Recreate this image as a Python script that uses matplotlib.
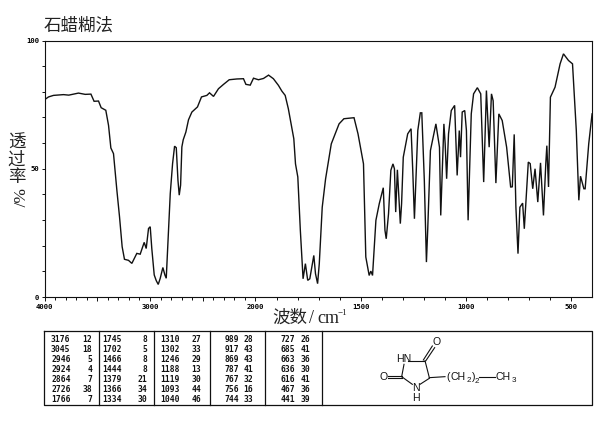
import numpy as np
import matplotlib
matplotlib.use("Agg")
import matplotlib.pyplot as plt
from matplotlib.ticker import FixedLocator, NullFormatter

wavenumber = [4000,3962,3915,3820,3770,3678,3614,3560,3530,3488,3463,3419,3393,3371,3346,3314,3289,3264,3242,3204,3172,3140,3125,3093,3055,3036,3014,2998,2983,2960,2941,2922,2903,2878,2859,2846,2824,2808,2786,2767,2751,2735,2723,2710,2698,2685,2660,2635,2603,2550,2512,2461,2436,2398,2351,2303,2249,2177,2114,2091,2050,2019,
              1986,1962,1938,1915,1891,1875,1859,1844,1830,1818,1810,1799,1787,1774,1763,1752,1742,1723,1715,1705,1697,1683,1667,1640,1603,1580,1532,1513,1487,1476,1460,1452,1444,1428,1412,1393,1385,1379,1368,1357,1347,1340,1334,1326,1312,1306,1298,1277,1261,1253,1245,1229,1217,1210,1198,1188,1182,1169,1143,1126,1120,1105,1099,1092,1083,1070,1054,1042,1032,1026,1018,1006,998,990,975,964,946,930,916,903,890,879,871,858,844,828,807,788,780,771,763,753,744,731,723,704,695,683,672,659,646,632,621,616,608,599,577,553,537,513,494,476,464,456,440,434,417,401]
transmittance = [76.9,78,78.6,78.9,78.7,79.5,79,79.1,76.3,76.4,73.8,72.8,66.9,58.1,55.9,41.6,31.3,19.6,14.7,14.3,13.1,15.7,17,16.7,21.3,18.9,26.7,27.4,18.9,8.6,6.4,4.9,7.3,11.5,8.6,7.3,26,40.3,52,58.8,58.2,45.5,39.7,43.6,58.5,61.3,64.3,69.1,72.1,74.1,78,78.6,79.6,78.2,81.2,82.9,84.7,85,85.1,82.9,82.6,85.3,
                 84.7,85.2,86.5,85.1,82.5,80.3,78.6,73.4,67,61.7,51.9,46.8,26,7.1,13,6.5,7.1,16.2,9.1,5.2,13,35,46.1,59.7,67.5,69.5,69.9,63.6,51.9,15.6,8.4,10.1,8.4,29.9,36.4,42.6,26,22.7,32.5,49.4,51.9,50,33.1,49.6,28.6,36.4,54.5,63.6,65.6,49.4,30.5,64.9,71.8,71.8,45.5,13.6,26,57.1,67.5,58.4,31.8,67.5,59.7,46.1,63.6,72.7,74.7,47.4,64.9,54.5,72.1,72.7,64.9,29.9,71.4,79.2,81.6,79.2,44.8,80.5,58.4,79.2,76.5,44.4,71.4,68.8,58.4,42.9,42.9,63.4,35.1,16.9,35,36.6,26.6,52.6,52,42.2,50,37,52.3,31.8,51.9,59,42.9,77.9,81.8,90.9,94.8,92.2,90.9,64.9,37.7,47.1,42.2,42.2,59.7,71.4]

major_ticks = [4000,3500,3000,2500,2000,1500,1000,500]
major_labels = ['4000','','3000','','2000','1500','1000','500']
y_labels = ['0','50','100']

peak_table = [
    [('3176',12),('3045',18),('2946',5),('2924',4),('2864',7),('2726',38),('1766',7)],
    [('1745',8),('1702',5),('1466',8),('1444',8),('1379',21),('1366',34),('1334',30)],
    [('1310',27),('1302',33),('1246',29),('1188',13),('1119',30),('1093',44),('1040',46)],
    [('989',28),('917',43),('869',43),('787',41),('767',32),('756',16),('744',33)],
    [('727',26),('685',41),('663',36),('636',30),('616',41),('467',36),('441',39)],
]

W, H = 595, 425
CJK = ['Noto Sans CJK SC', 'DejaVu Sans']
TICKFONT = dict(family='DejaVu Sans Mono', fontweight='bold')
INK = '#111111'
SOFT = '#222222'

fig = plt.figure(figsize=(W/100, H/100), dpi=100, facecolor='white')
L, R, T, B = 44.5, 592.3, 40.5, 297.0
ax = fig.add_axes([L/W, 1-B/H, (R-L)/W, (B-T)/H])

def fwd(v):
    return np.interp(v, [400, 2000, 4000], [0, 336.8, 547.8])
def inv(u):
    return np.interp(u, [0, 336.8, 547.8], [400, 2000, 4000])

ax.set_xscale('function', functions=(fwd, inv))
ax.plot(wavenumber, transmittance, color=INK, lw=1.0, solid_joinstyle='miter')
ax.set_xlim(4000, 400)
ax.set_ylim(0, 100)

ax.xaxis.set_major_locator(FixedLocator(major_ticks))
ax.set_xticklabels(major_labels, fontsize=5.2, **TICKFONT)
ax.xaxis.set_minor_locator(FixedLocator(list(range(500, 4000, 100))))
ax.xaxis.set_minor_formatter(NullFormatter())
ax.yaxis.set_major_locator(FixedLocator([0, 50, 100]))
ax.set_yticklabels(y_labels, fontsize=5.2, **TICKFONT)
ax.yaxis.set_minor_locator(FixedLocator(list(range(10, 100, 10))))
ax.yaxis.set_minor_formatter(NullFormatter())
ax.tick_params(axis='x', which='major', length=3.2, width=0.7, pad=1.5, color=INK)
ax.tick_params(axis='x', which='minor', length=2, width=0.7, color=INK)
ax.tick_params(axis='y', which='major', length=2.5, width=0.7, pad=1.5, color=INK)
ax.tick_params(axis='y', which='minor', length=2, width=0.7, color=INK)
for s in ax.spines.values():
    s.set_linewidth(0.8)
    s.set_color(INK)

ov = fig.add_axes([0, 0, 1, 1], facecolor='none')
ov.set_xlim(0, W)
ov.set_ylim(H, 0)
ov.axis('off')

ov.text(43.5, 26, '石蜡糊法', family=CJK, fontsize=12.6, va='center', ha='left', color=SOFT)
for ch, y in [('透', 143), ('过', 160), ('率', 177)]:
    ov.text(16.5, y, ch, family=CJK, fontsize=12.6, va='center', ha='center', color=SOFT)
ov.text(16.5, 198, '%/', family='Liberation Serif', fontsize=12.5, va='center', ha='center',
        rotation=270, color=SOFT)
ov.text(272, 318, '波数', family=CJK, fontsize=12.6, va='center', ha='left', color=SOFT)
ov.text(309, 318.5, '/', family='Liberation Serif', fontsize=13, va='center', ha='left', color=SOFT)
ov.text(317, 318.5, 'cm', family='Liberation Serif', fontsize=13, va='center', ha='left', color=SOFT)
ov.text(338, 313, '−1', family='Liberation Serif', fontsize=6.5, va='center', ha='left', color=SOFT)

ov.plot([44, 592, 592, 44, 44], [331, 331, 405, 405, 331], color=INK, lw=0.9)
for x in [99, 154, 210, 265, 322]:
    ov.plot([x, x], [331, 405], color=INK, lw=0.9)
col_left = [51, 102, 160, 220, 276]
col_right = [92, 147, 201, 253, 310]
for col, xl, xr in zip(peak_table, col_left, col_right):
    for i, (wn, val) in enumerate(col):
        y = 339 + i*10
        ov.text(xl + (4-len(wn))*4.8, y, wn, fontsize=5.8, va='center', ha='left', color=INK, **TICKFONT)
        ov.text(xr, y, str(val), fontsize=5.8, va='center', ha='right', color=INK, **TICKFONT)

def z(x, y):
    return 320 + x/3, 325 + y/3
def bond(x0, y0, x1, y1):
    a, b = z(x0, y0), z(x1, y1)
    ov.plot([a[0], b[0]], [a[1], b[1]], color=INK, lw=0.8)
def label(x, y, s, size=7.6):
    a = z(x, y)
    ov.text(a[0], a[1], s, family='Liberation Sans', fontsize=size, va='center', ha='center', color=INK)

for seg in [(265,107,312,107),(315,107,328,158),(328,160,300,178),(277,178,245,155),
            (245,155,252,118),(310,105,337,63),(317,108,344,68),(245,152,203,152),(245,159,203,159),
            (328,158,375,155),(478,155,525,155)]:
    bond(*seg)
label(250, 103, 'HN')
label(288, 188, 'N')
label(288, 218, 'H')
label(350, 52, 'O')
label(190, 155, 'O')
label(383, 155, '(')
label(414, 155, 'CH')
label(447, 167, '2', 5.8)
label(462, 155, ')')
label(470, 169, '2', 5.8)
label(550, 155, 'CH')
label(581, 165, '3', 5.8)

fig.savefig('out.png', dpi=100, facecolor='white')
